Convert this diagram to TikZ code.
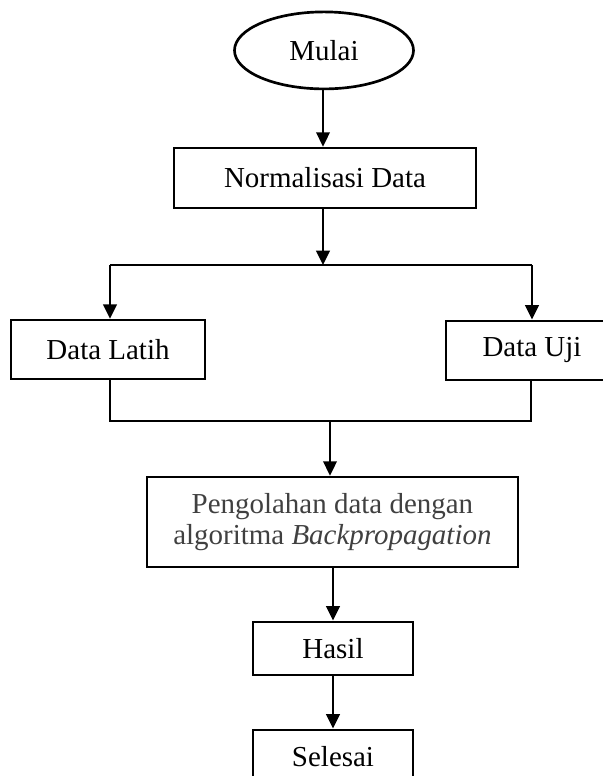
\documentclass[tikz,border=0pt]{standalone}
\usepackage{fontspec}
\setmainfont{Liberation Serif}
\usepackage{tikz}
\usetikzlibrary{arrows.meta}
\usetikzlibrary{shapes}
\usetikzlibrary{calc}
\definecolor{textgray}{HTML}{404040}
\tikzstyle{box} = [rectangle,draw,line width=1.9pt,inner sep=0pt,align=center]
\tikzstyle{startstop} = [ellipse,draw,line width=1.9pt,inner sep=0pt]
\tikzstyle{flow} = [line width=1.5pt,-{Triangle[length=0.36cm,width=0.34cm]}]
\tikzstyle{wire} = [line width=1.5pt]

\begin{document}
\begin{tikzpicture}[font=\fontsize{20.6}{24}\selectfont]
	\useasboundingbox (0,0) rectangle (15.075,-19.4);
	\node[startstop, minimum width=4.475cm, minimum height=1.925cm] (mulai) at (8.1,-1.26) {Mulai};
	\node[box, minimum width=7.55cm, minimum height=1.5cm] (norm) at (8.125,-4.45) {Normalisasi Data};
	\node[box, minimum width=4.85cm, minimum height=1.475cm] (latih) at (2.7,-8.74) {Data Latih};
	\node[box, minimum width=4.3cm, minimum height=1.475cm] (uji) at (13.3,-8.76) {Data Uji};
	\node[box, minimum width=9.275cm, minimum height=2.25cm, text=textgray] (olah) at (8.31,-13.05) {Pengolahan data dengan\\[-2pt]algoritma \textit{Backpropagation}};
	\node[box, minimum width=4cm, minimum height=1.325cm] (hasil) at (8.325,-16.21) {Hasil};
	\node[box, minimum width=4cm, minimum height=1.325cm] (selesai) at (8.325,-18.91) {Selesai};
	\coordinate (split) at (8.075,-6.625);
	\coordinate (splitL) at (2.75,-6.625);
	\coordinate (splitR) at (13.3,-6.625);
	\coordinate (merge) at (8.25,-10.525);
	\coordinate (mergeL) at (2.75,-10.525);
	\coordinate (mergeR) at (13.275,-10.525);
	\draw[flow] (mulai.south -| split) -- (norm.north -| split);
	\draw[flow] (norm.south -| split) -- (split);
	\draw[wire] (splitL) -- (splitR);
	\draw[flow] (splitL) -- (splitL |- latih.north);
	\draw[flow] (splitR) -- (splitR |- uji.north);
	\draw[wire] (mergeL |- latih.south) -- (mergeL) -- (mergeR) -- (mergeR |- uji.south);
	\draw[flow] (merge) -- (merge |- olah.north);
	\draw[flow] (olah.south -| hasil) -- (hasil.north);
	\draw[flow] (hasil.south) -- (selesai.north);
\end{tikzpicture}
\end{document}
